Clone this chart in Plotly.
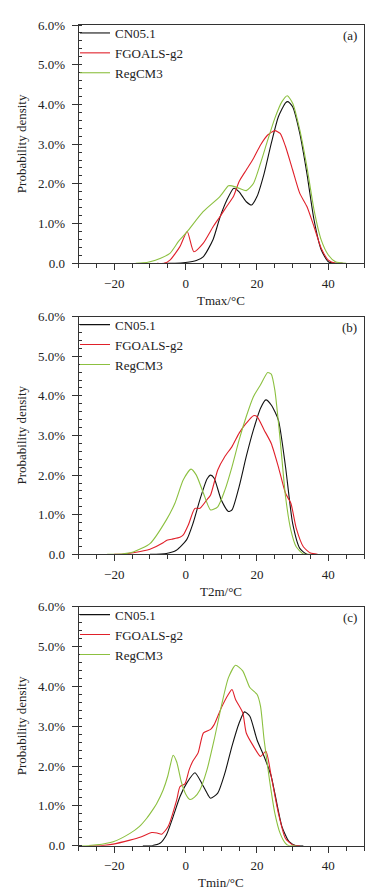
import plotly.graph_objects as go

# ---------------- data (percent) ----------------
# Panel (a) Tmax
a_cn_x = [-6, -3, 0, 3, 5, 7.7, 9.6, 11.5, 13.5, 15, 17, 18.5, 20, 22, 24, 26, 28, 28.7, 30, 32, 34, 36, 38, 40, 42, 44]
a_cn_y = [0.0, 0.0, 0.02, 0.07, 0.17, 0.60, 1.15, 1.58, 1.89, 1.80, 1.55, 1.47, 1.68, 2.26, 3.02, 3.69, 4.04, 4.07, 3.94, 3.27, 2.26, 1.09, 0.34, 0.04, 0.0, 0.0]
a_fg_x = [-8, -6, -4.4, -1.6, 0.45, 2.3, 4.9, 7.7, 9.6, 11.5, 13.4, 15, 17, 19, 21, 23, 25, 26.5, 28, 30, 32, 34, 36, 38, 40, 42, 44]
a_fg_y = [0.0, 0.0, 0.08, 0.42, 0.80, 0.29, 0.50, 0.92, 1.17, 1.43, 1.68, 2.06, 2.35, 2.64, 2.98, 3.23, 3.34, 3.27, 2.94, 2.35, 1.76, 1.43, 0.92, 0.38, 0.08, 0.0, 0.0]
a_rg_x = [-14, -12, -10, -7, -4.4, -2, 0.45, 4.9, 9.6, 12, 13, 15, 17, 19, 21, 23, 25, 27, 28.5, 30, 32, 34, 36, 38, 40, 42, 45]
a_rg_y = [0.0, 0.01, 0.04, 0.13, 0.25, 0.55, 0.80, 1.30, 1.68, 1.95, 1.95, 1.89, 1.83, 2.01, 2.52, 3.10, 3.65, 4.07, 4.22, 4.03, 3.36, 2.43, 1.34, 0.59, 0.21, 0.04, 0.0]

# Panel (b) T2m
b_cn_x = [-10, -5.4, -2.6, 0.3, 2.1, 4, 6, 7, 8, 10, 12, 13, 15, 17, 19, 21, 22.5, 24, 26, 28, 30, 32, 34, 36]
b_cn_y = [0.0, 0.02, 0.10, 0.37, 0.79, 1.38, 1.90, 2.00, 1.92, 1.37, 1.08, 1.12, 1.71, 2.47, 3.14, 3.69, 3.90, 3.77, 3.39, 2.21, 0.78, 0.15, 0.0, 0.0]
b_fg_x = [-20, -18, -14.7, -10, -6.3, -5.4, -3.9, -1.6, -0.65, 0.75, 2.6, 4, 5.9, 7, 9, 11, 13, 15, 17, 19, 20, 22, 24, 26, 28, 29.5, 31, 33, 35, 37]
b_fg_y = [0.0, 0.0, 0.04, 0.13, 0.29, 0.35, 0.38, 0.43, 0.49, 0.74, 1.16, 1.16, 1.37, 1.50, 2.13, 2.47, 2.72, 3.06, 3.31, 3.50, 3.48, 3.14, 2.80, 2.21, 1.54, 1.29, 0.66, 0.19, 0.03, 0.0]
b_rg_x = [-22, -19.4, -14.7, -10, -5.4, -3, -0.65, 1.5, 3, 5, 7, 9, 11, 13, 15, 17, 19, 21, 23, 24, 25, 26.5, 28, 29.5, 31, 33, 35]
b_rg_y = [0.0, 0.0, 0.06, 0.27, 0.87, 1.29, 1.88, 2.15, 2.00, 1.54, 1.12, 1.20, 1.62, 2.21, 2.89, 3.48, 3.98, 4.28, 4.59, 4.55, 4.15, 2.89, 1.46, 0.61, 0.19, 0.01, 0.0]

# Panel (c) Tmin
c_cn_x = [-12, -9.5, -7.2, -5.4, -3.5, -1.6, 0.3, 2.6, 4.5, 6.3, 7, 9, 11, 13, 15, 16.5, 18, 20, 22, 24, 25, 27, 29, 31, 33]
c_cn_y = [0.0, 0.0, 0.06, 0.27, 0.73, 1.23, 1.57, 1.83, 1.57, 1.27, 1.19, 1.32, 1.82, 2.50, 3.08, 3.36, 3.25, 2.66, 2.24, 1.74, 1.32, 0.48, 0.10, 0.0, 0.0]
c_fg_x = [-27, -24, -20.3, -15.6, -12.8, -9.5, -8, -6.7, -4.9, -2.5, -1.6, -0.2, 1, 2, 3.5, 5, 7, 8, 10, 12, 13, 14, 16, 17, 19, 21, 22.5, 24, 26, 28, 30, 32]
c_fg_y = [0.0, 0.0, 0.04, 0.14, 0.21, 0.33, 0.32, 0.29, 0.48, 1.15, 1.48, 1.55, 1.91, 2.12, 2.33, 2.83, 2.92, 3.04, 3.46, 3.80, 3.92, 3.67, 3.34, 2.83, 2.50, 2.24, 2.37, 1.74, 0.82, 0.18, 0.02, 0.0]
c_rg_x = [-30, -28, -25, -20.3, -15.6, -13, -10.9, -9, -8.1, -6.3, -5, -4.4, -3.5, -2.5, -1.2, 0, 1.2, 2.5, 4, 6, 8, 10, 12, 14, 16, 18, 20, 21, 22, 23.5, 25, 26.5, 28, 29, 31]
c_rg_y = [0.0, 0.0, 0.02, 0.10, 0.31, 0.48, 0.69, 0.93, 1.06, 1.40, 1.75, 1.98, 2.27, 2.10, 1.60, 1.30, 1.16, 1.22, 1.40, 1.91, 2.66, 3.50, 4.22, 4.53, 4.39, 3.97, 3.80, 3.50, 2.66, 1.66, 0.82, 0.31, 0.06, 0.0, 0.0]

series_names = ["CN05.1", "FGOALS-g2", "RegCM3"]
series_colors = ["#111111", "#e0202a", "#8cc040"]
panel_labels = ["(a)", "(b)", "(c)"]
x_titles = ["Tmax/\u00b0C", "T2m/\u00b0C", "Tmin/\u00b0C"]
y_title = "Probability density"
y_tickvals = [0, 1, 2, 3, 4, 5, 6]
y_ticktext = ["0.0", "1.0%", "2.0%", "3.0%", "4.0%", "5.0%", "6.0%"]
x_tickvals = [-20, 0, 20, 40]

panels = [
    [(a_cn_x, a_cn_y), (a_fg_x, a_fg_y), (a_rg_x, a_rg_y)],
    [(b_cn_x, b_cn_y), (b_fg_x, b_fg_y), (b_rg_x, b_rg_y)],
    [(c_cn_x, c_cn_y), (c_fg_x, c_fg_y), (c_rg_x, c_rg_y)],
]

# ---------------- layout geometry ----------------
W, H = 377, 895
x_dom = [78.6 / W, 364 / W]
tops = [25, 316.7, 606.7]
bottoms = [263.3, 554.3, 845.7]
y_doms = [[1 - b / H, 1 - t / H] for t, b in zip(tops, bottoms)]

FONT = "Liberation Serif"
TXT = "#222222"
fig = go.Figure()

legend_keys = ["legend", "legend2", "legend3"]
for p, series in enumerate(panels):
    xa = "x" if p == 0 else f"x{p+1}"
    ya = "y" if p == 0 else f"y{p+1}"
    for s, (xs, ys) in enumerate(series):
        fig.add_trace(go.Scatter(
            x=xs, y=ys, mode="lines", name=series_names[s],
            line=dict(color=series_colors[s], width=1.1, shape="spline", smoothing=0.6),
            xaxis=xa, yaxis=ya, legend=legend_keys[p], showlegend=True,
        ))

axis_common = dict(showline=True, linecolor="#333333", linewidth=1, mirror=True,
                   showgrid=False, zeroline=False, automargin=False,
                   tickfont=dict(family=FONT, size=13, color=TXT),
                   tickcolor="#333333", tickwidth=1)
layout = dict(template="none", width=W, height=H, margin=dict(l=0, r=0, t=0, b=0, pad=0),
              paper_bgcolor="white", plot_bgcolor="white", showlegend=True,
              font=dict(family=FONT, size=13, color=TXT))
annotations = []
for p in range(3):
    xk = "xaxis" if p == 0 else f"xaxis{p+1}"
    yk = "yaxis" if p == 0 else f"yaxis{p+1}"
    ya = "y" if p == 0 else f"y{p+1}"
    xa = "x" if p == 0 else f"x{p+1}"
    layout[xk] = dict(domain=x_dom, range=[-30, 50], anchor=ya, tickvals=x_tickvals,
                      ticks="outside", ticklen=6, ticklabelstandoff=2,
                      minor=dict(dtick=5, tick0=0, ticks="outside", ticklen=4,
                                 tickcolor="#333333", showgrid=False),
                      **axis_common)
    layout[yk] = dict(domain=y_doms[p], range=[0, 6], anchor=xa, tickvals=y_tickvals,
                      ticktext=y_ticktext, ticks="outside", ticklen=6, ticklabelstandoff=4,
                      minor=dict(dtick=0.2, tick0=0, ticks="inside", ticklen=3,
                                 tickcolor="#333333", showgrid=False),
                      **axis_common)
    layout[legend_keys[p]] = dict(x=75 / W, xanchor="left", y=1 - (tops[p] - 7) / H, yanchor="top",
                                  bgcolor="rgba(0,0,0,0)", borderwidth=0,
                                  font=dict(family=FONT, size=13, color=TXT),
                                  tracegroupgap=0, itemwidth=30)
    annotations.append(dict(text=panel_labels[p], xref="paper", yref="paper",
                            x=359 / W, xanchor="right", y=1 - (tops[p] + 11) / H, yanchor="middle",
                            showarrow=False, font=dict(family=FONT, size=13, color=TXT)))
    annotations.append(dict(text=x_titles[p], xref="paper", yref="paper",
                            x=(x_dom[0] + x_dom[1]) / 2, xanchor="center",
                            y=1 - (bottoms[p] + 37) / H, yanchor="middle",
                            showarrow=False, font=dict(family=FONT, size=13, color=TXT)))
    annotations.append(dict(text=y_title, xref="paper", yref="paper",
                            x=21 / W, xanchor="center",
                            y=1 - (tops[p] + bottoms[p]) / 2 / H, yanchor="middle", textangle=-90,
                            showarrow=False, font=dict(family=FONT, size=13, color=TXT)))
layout["annotations"] = annotations
fig.update_layout(**layout)
fig.write_html("out.html", config={"displayModeBar": False},
               post_script="document.body.style.margin='0';document.body.style.overflow='hidden';")
